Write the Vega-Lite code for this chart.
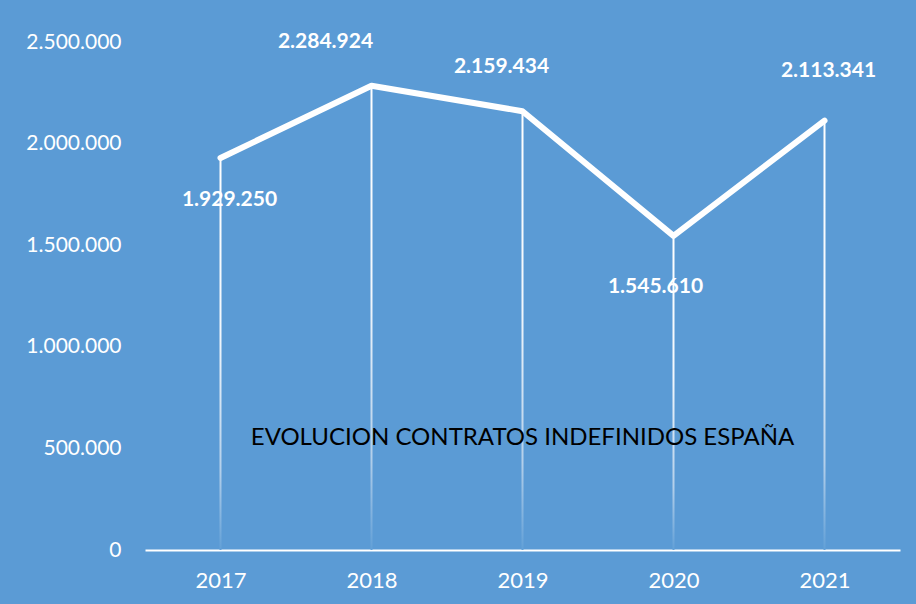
{
  "$schema": "https://vega.github.io/schema/vega-lite/v6.json",
  "autosize": {"type": "none"},
  "width": 755,
  "height": 508,
  "padding": {"left": 145, "top": 42, "right": 16, "bottom": 54},
  "background": "#5B9BD5",
  "config": {
    "view": {"stroke": null},
    "locale": {"number": {"decimal": ",", "thousands": ".", "grouping": [3], "currency": ["", " €"]}},
    "font": "Lato"
  },
  "data": {
    "values": [
      {"year": "2017", "contratos": 1929250},
      {"year": "2018", "contratos": 2284924},
      {"year": "2019", "contratos": 2159434},
      {"year": "2020", "contratos": 1545610},
      {"year": "2021", "contratos": 2113341}
    ]
  },
  "encoding": {
    "x": {
      "field": "year",
      "type": "ordinal",
      "scale": {"type": "point", "padding": 0.5},
      "axis": {
        "title": null,
        "labelAngle": 0,
        "domain": true,
        "domainColor": "#ffffff",
        "domainWidth": 2,
        "ticks": false,
        "labelColor": "#ffffff",
        "labelFont": "Lato",
        "labelFontSize": 22,
        "labelPadding": 20,
        "grid": false
      }
    },
    "y": {
      "field": "contratos",
      "type": "quantitative",
      "scale": {"domain": [0, 2500000], "nice": false, "zero": true},
      "axis": {
        "title": null,
        "values": [0, 500000, 1000000, 1500000, 2000000, 2500000],
        "format": ",d",
        "domain": false,
        "ticks": false,
        "grid": false,
        "labelColor": "#ffffff",
        "labelFont": "Lato",
        "labelFontSize": 21,
        "labelPadding": 24
      }
    }
  },
  "layer": [
    {
      "mark": {
        "type": "bar",
        "size": 2,
        "color": {
          "gradient": "linear",
          "x1": 0, "y1": 0, "x2": 0, "y2": 1,
          "stops": [
            {"offset": 0, "color": "#ffffff"},
            {"offset": 0.45, "color": "#f2f7fc"},
            {"offset": 0.8, "color": "#b3cfea"},
            {"offset": 1, "color": "#62a0d7"}
          ]
        }
      }
    },
    {
      "mark": {"type": "line", "color": "#ffffff", "strokeWidth": 6, "strokeCap": "round", "strokeJoin": "round"}
    },
    {
      "transform": [{"filter": "datum.year == '2017'"}],
      "mark": {"type": "text", "color": "#ffffff", "fontWeight": "bold", "fontSize": 21, "baseline": "middle", "dx": 9, "dy": 42},
      "encoding": {"text": {"field": "contratos", "type": "quantitative", "format": ",d"}}
    },
    {
      "transform": [{"filter": "datum.year == '2018'"}],
      "mark": {"type": "text", "color": "#ffffff", "fontWeight": "bold", "fontSize": 21, "baseline": "middle", "dx": -46, "dy": -44},
      "encoding": {"text": {"field": "contratos", "type": "quantitative", "format": ",d"}}
    },
    {
      "transform": [{"filter": "datum.year == '2019'"}],
      "mark": {"type": "text", "color": "#ffffff", "fontWeight": "bold", "fontSize": 21, "baseline": "middle", "dx": -21, "dy": -44},
      "encoding": {"text": {"field": "contratos", "type": "quantitative", "format": ",d"}}
    },
    {
      "transform": [{"filter": "datum.year == '2020'"}],
      "mark": {"type": "text", "color": "#ffffff", "fontWeight": "bold", "fontSize": 21, "baseline": "middle", "dx": -18, "dy": 51},
      "encoding": {"text": {"field": "contratos", "type": "quantitative", "format": ",d"}}
    },
    {
      "transform": [{"filter": "datum.year == '2021'"}],
      "mark": {"type": "text", "color": "#ffffff", "fontWeight": "bold", "fontSize": 21, "baseline": "middle", "dx": 4, "dy": -50},
      "encoding": {"text": {"field": "contratos", "type": "quantitative", "format": ",d"}}
    },
    {
      "data": {"values": [{"year": "2019", "contratos": 552000, "label": "EVOLUCION CONTRATOS INDEFINIDOS ESPAÑA"}]},
      "mark": {"type": "text", "color": "#000000", "font": "Lato", "fontSize": 24, "baseline": "middle", "align": "center"},
      "encoding": {
        "text": {"field": "label", "type": "nominal"}
      }
    }
  ]
}
